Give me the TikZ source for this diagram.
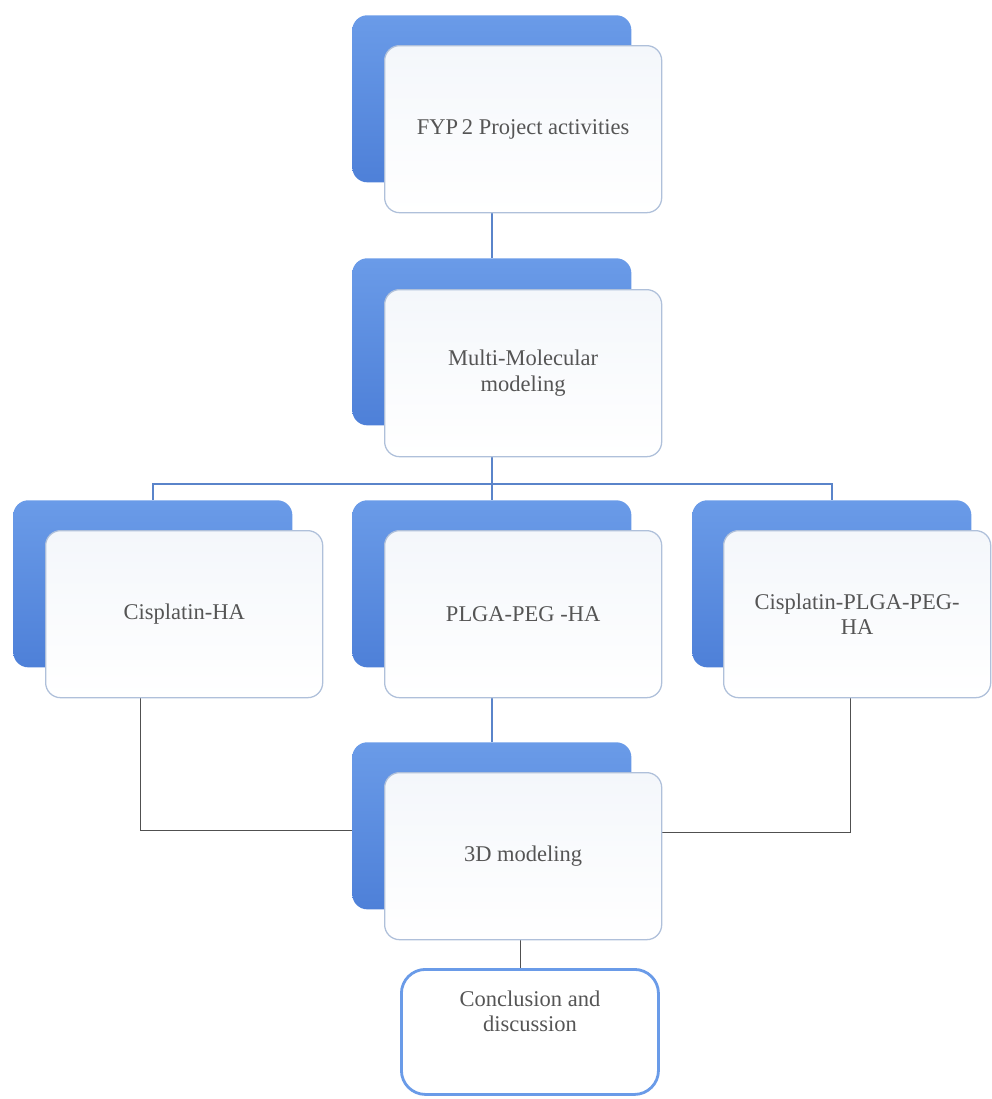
\documentclass[tikz,border=0pt]{standalone}
\usepackage{fontspec}
\setmainfont{Liberation Serif}
\usetikzlibrary{positioning, calc, backgrounds}
\definecolor{cardblue}{HTML}{6A9BE8}
\definecolor{carddeep}{HTML}{4E80D8}
\definecolor{cardedge}{HTML}{AFC0DA}
\definecolor{cardtint}{HTML}{F4F7FB}
\definecolor{linkblue}{HTML}{5A84CA}
\definecolor{linkgray}{HTML}{505050}
\definecolor{inkgray}{HTML}{555555}
\tikzset{
  backcard/.style={rounded corners=0.375cm, top color=cardblue, bottom color=carddeep, draw=none, minimum width=6.975cm, minimum height=4.175cm, anchor=north west, inner sep=0pt},
  frontcard/.style={rounded corners=0.375cm, draw=cardedge, line width=0.9pt, top color=cardtint, bottom color=white, minimum width=6.925cm, minimum height=4.175cm, anchor=north west, align=center, text=inkgray, font=\fontsize{16}{18}\selectfont, inner sep=4pt},
  endcard/.style={rounded corners=0.6cm, draw=cardblue, line width=2pt, fill=white, minimum width=6.425cm, minimum height=3.125cm, anchor=north west, inner sep=0pt},
  endtext/.style={align=center, text=inkgray, font=\fontsize{16}{18}\selectfont, anchor=north},
  bluelink/.style={draw=linkblue, line width=1.4pt},
  graylink/.style={draw=linkgray, line width=0.8pt},
}
\begin{document}
\begin{tikzpicture}[x=0.025cm, y=-0.025cm]
  \useasboundingbox (0,0) rectangle (992,1099);
  % top level
  \node[backcard] (fypB) at (352,15) {};
  \node[frontcard] (fypF) at (384,45) {FYP\,2 Project activities};
  % second level
  \node[backcard] (mmB) at (352,258) {};
  \node[frontcard] (mmF) at (384,289) {Multi-Molecular\\modeling};
  % three branches
  \node[backcard] (cisB) at (13,500) {};
  \node[frontcard] (cisF) at (45,530) {Cisplatin-HA};
  \node[backcard] (plgaB) at (352,500) {};
  \node[frontcard] (plgaF) at (384,530) {PLGA-PEG -HA};
  \node[backcard] (cppB) at (692,500) {};
  \node[frontcard, minimum width=6.675cm] (cppF) at (723,530) {Cisplatin-PLGA-PEG-\\HA};
  % merge
  \node[backcard] (tdB) at (352,742) {};
  \node[frontcard] (tdF) at (384,772) {3D modeling};
  % end box
  \node[endcard] (conc) at (400,968) {};
  \node[endtext, below=0.45cm of conc.north] (concT) {Conclusion and\\discussion};
  \coordinate (hub) at (493,484);

  \begin{scope}[on background layer]
    \draw[bluelink] (fypF.south -| mmB.north) -- (mmB.north);
    \draw[bluelink] (mmF.south -| mmB.north) -- (plgaB.north);
    \draw[bluelink] (cisB.north) -- (cisB.north |- hub) -- (cppB.north |- hub) -- (cppB.north);
    \draw[bluelink] (plgaF.south -| tdB.north) -- (tdB.north);
    \draw[graylink] ([xshift=-1.09cm]cisF.south) |- ([yshift=-0.125cm]tdB.west);
    \draw[graylink] ([xshift=-0.16cm]cppF.south) |- ([yshift=0.6cm]tdF.east);
    \draw[graylink] ([xshift=-0.06cm]tdF.south) -- ([xshift=-0.06cm]tdF.south |- conc.north);
  \end{scope}
\end{tikzpicture}
\end{document}
